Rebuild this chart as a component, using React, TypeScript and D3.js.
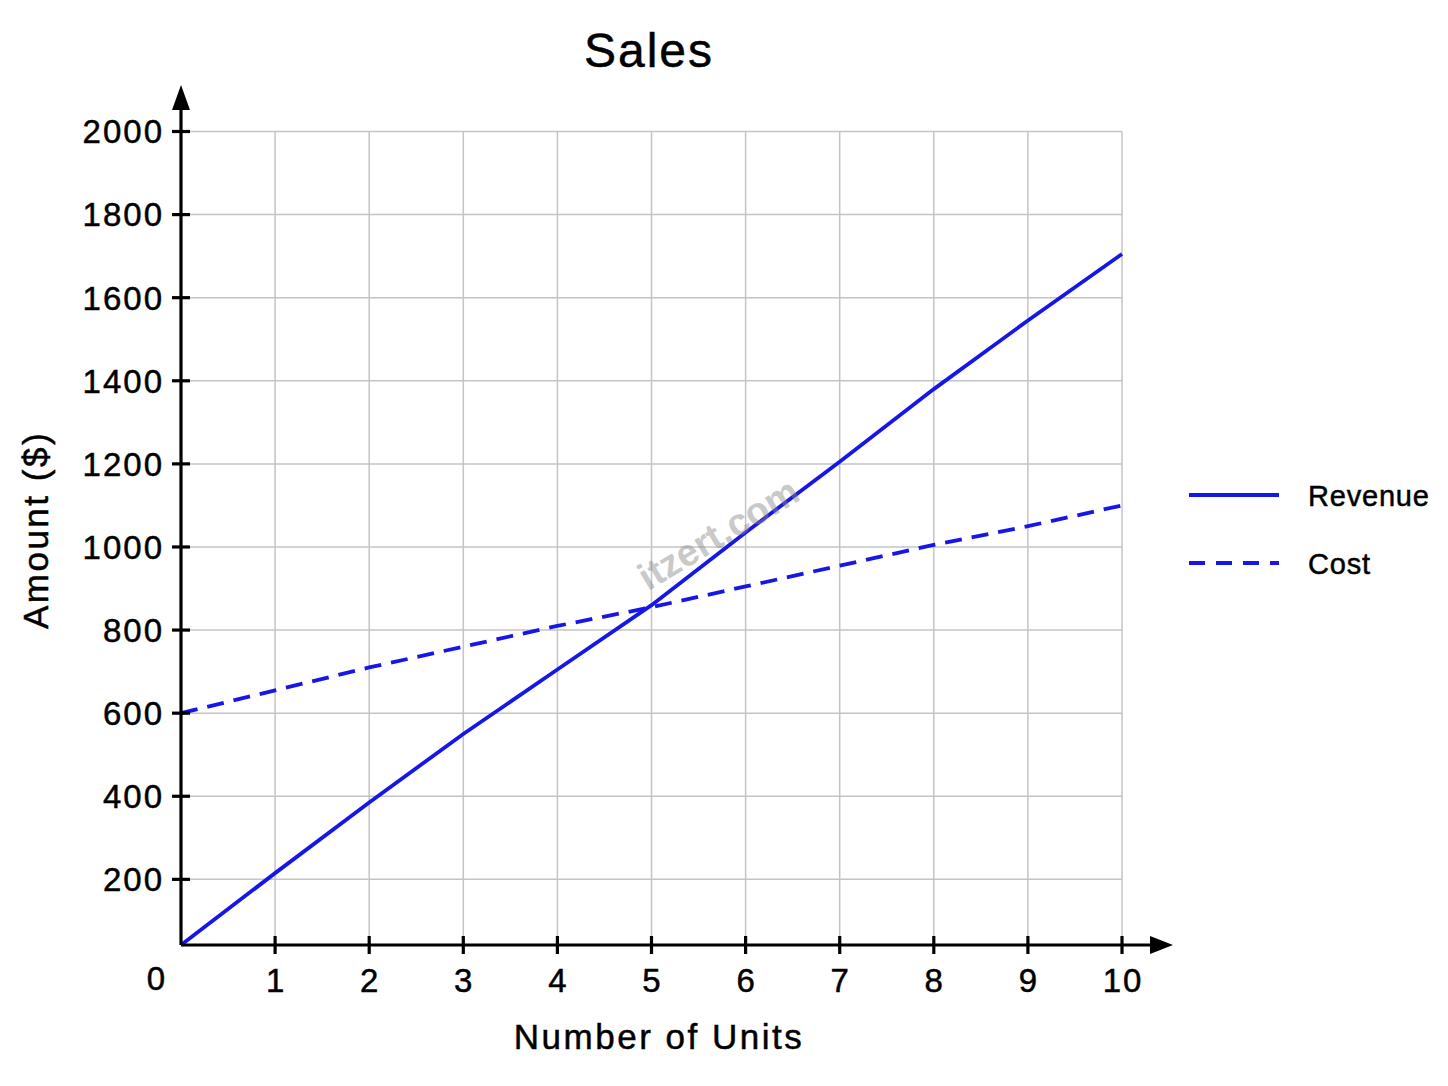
import React, { useEffect, useRef } from "react";
import * as d3 from "d3";

const units = [0, 1, 2, 3, 4, 5, 6, 7, 8, 9, 10];
const revenue = [42, 215, 385, 550, 705, 860, 1035, 1205, 1380, 1545, 1705];
const cost = [600, 655, 710, 760, 810, 855, 905, 955, 1005, 1050, 1100];
const yTicks = [200, 400, 600, 800, 1000, 1200, 1400, 1600, 1800, 2000];
const xTicks = [1, 2, 3, 4, 5, 6, 7, 8, 9, 10];
const seriesNames = ["Revenue", "Cost"];

const FONT = "'Liberation Sans', Arial, sans-serif";
const BLUE = "#1616e8";

const App: React.FC = () => {
  const svgRef = useRef<SVGSVGElement>(null);

  useEffect(() => {
    const svg = d3.select(svgRef.current).attr("width", 1448).attr("height", 1086);
    svg.selectAll("*").remove();

    const x = d3.scaleLinear().domain([0, 10]).range([181, 1122]);
    const y = d3.scaleLinear().domain([42, 2000]).range([945, 131.5]);

    svg.append("rect").attr("width", 1448).attr("height", 1086).attr("fill", "#fff");

    // grid
    const grid = svg.append("g").attr("stroke", "#c4c4c4").attr("stroke-width", 1.5);
    xTicks.forEach((t) => {
      grid.append("line").attr("x1", x(t)).attr("x2", x(t)).attr("y1", y(2000)).attr("y2", y(42));
    });
    yTicks.forEach((t) => {
      grid.append("line").attr("x1", x(0)).attr("x2", x(10)).attr("y1", y(t)).attr("y2", y(t));
    });

    // lines
    const line = d3
      .line<number>()
      .x((_, i) => x(units[i]))
      .y((d) => y(d));

    svg.append("path").attr("d", line(cost)).attr("fill", "none").attr("stroke", BLUE)
      .attr("stroke-width", 3.8).attr("stroke-dasharray", "17,10");
    svg.append("path").attr("d", line(revenue)).attr("fill", "none").attr("stroke", BLUE)
      .attr("stroke-width", 3.8);

    // axes
    const ax = svg.append("g").attr("stroke", "#000").attr("stroke-width", 3.2);
    ax.append("line").attr("x1", x(0)).attr("x2", 1158).attr("y1", y(42)).attr("y2", y(42));
    ax.append("line").attr("x1", x(0)).attr("x2", x(0)).attr("y1", y(42)).attr("y2", 100);
    svg.append("path").attr("d", `M1173,${y(42)} L1150,${y(42) - 9} L1150,${y(42) + 9} Z`).attr("fill", "#000");
    svg.append("path").attr("d", `M${x(0)},85 L${x(0) - 9},110 L${x(0) + 9},110 Z`).attr("fill", "#000");

    xTicks.forEach((t) => {
      ax.append("line").attr("x1", x(t)).attr("x2", x(t)).attr("y1", y(42) - 9).attr("y2", y(42) + 9);
    });
    yTicks.forEach((t) => {
      ax.append("line").attr("x1", x(0) - 9).attr("x2", x(0) + 9).attr("y1", y(t)).attr("y2", y(t));
    });

    const txt = svg.append("g").attr("font-family", FONT).attr("fill", "#000")
      .attr("stroke", "#000").attr("stroke-width", 0.5);
    xTicks.forEach((t) => {
      txt.append("text").attr("x", x(t) + 1).attr("y", 992).attr("text-anchor", "middle")
        .attr("font-size", 33).attr("letter-spacing", 2).text(String(t));
    });
    txt.append("text").attr("x", 156).attr("y", 990).attr("text-anchor", "middle")
      .attr("font-size", 33).text("0");
    yTicks.forEach((t) => {
      txt.append("text").attr("x", 164).attr("y", y(t)).attr("dy", "0.36em").attr("text-anchor", "end")
        .attr("font-size", 33).attr("letter-spacing", 2).text(String(t));
    });

    txt.append("text").attr("x", 649).attr("y", 67).attr("text-anchor", "middle")
      .attr("font-size", 48).attr("letter-spacing", 2).text("Sales");
    txt.append("text").attr("x", 659).attr("y", 1049).attr("text-anchor", "middle")
      .attr("font-size", 35).attr("letter-spacing", 2.5).text("Number of Units");
    txt.append("text").attr("transform", "translate(48,530) rotate(-90)").attr("text-anchor", "middle")
      .attr("font-size", 35).attr("letter-spacing", 2.5).text("Amount ($)");

    // legend
    seriesNames.forEach((name, i) => {
      const ly = 495 + i * 68;
      svg.append("line").attr("x1", 1189).attr("x2", 1279).attr("y1", ly).attr("y2", ly)
        .attr("stroke", BLUE).attr("stroke-width", 3.8)
        .attr("stroke-dasharray", i === 1 ? "16,11" : null);
      txt.append("text").attr("x", 1308).attr("y", ly + 11)
        .attr("font-size", 29).attr("letter-spacing", 0.8).text(name);
    });

    // watermark
    svg.append("text").attr("transform", "translate(725,545) rotate(-31)").attr("text-anchor", "middle")
      .attr("font-family", FONT).attr("font-weight", "bold").attr("font-size", 38)
      .attr("fill", "#888").attr("opacity", 0.45).text("itzert.com");
  }, []);

  return <svg ref={svgRef} style={{ position: "absolute", left: 0, top: 0 }}></svg>;
};

export default App;
